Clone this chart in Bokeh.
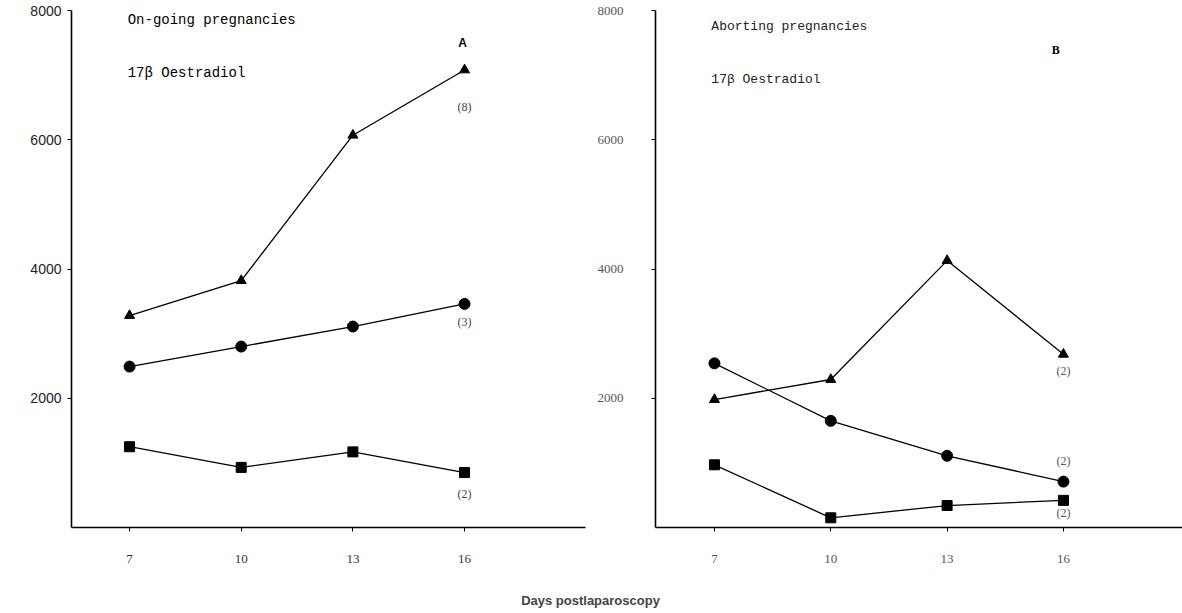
from bokeh.plotting import figure
from bokeh.layouts import column, row
from bokeh.models import FixedTicker, Label, Range1d
from bokeh.embed import file_html
from bokeh.resources import INLINE

days = [7, 10, 13, 16]
y_ticks = [2000, 4000, 6000, 8000]

# Panel A: on-going pregnancies
a_triangle = [3280, 3820, 6070, 7080]
a_circle = [2490, 2800, 3110, 3460]
a_square = [1250, 930, 1170, 850]

# Panel B: aborting pregnancies
b_triangle = [1980, 2290, 4130, 2680]
b_circle = [2540, 1650, 1110, 710]
b_square = [970, 150, 340, 420]


def style(p, ylab_font, ylab_color, xlab_font, xlab_color, ysize, xsize, ystand):
    p.outline_line_color = None
    p.xgrid.visible = False
    p.ygrid.visible = False
    p.xaxis.ticker = FixedTicker(ticks=days)
    p.yaxis.ticker = FixedTicker(ticks=y_ticks)
    for ax in (p.xaxis, p.yaxis):
        ax.axis_line_color = "black"
        ax.axis_line_width = 1.6
        ax.major_tick_in = 0
        ax.major_tick_out = 4
        ax.minor_tick_line_color = None
        ax.major_tick_line_color = "black"
    p.yaxis.major_label_text_font = ylab_font
    p.yaxis.major_label_text_color = ylab_color
    p.yaxis.major_label_text_font_size = ysize
    p.yaxis.major_label_standoff = ystand
    p.xaxis.major_label_text_font = xlab_font
    p.xaxis.major_label_text_color = xlab_color
    p.xaxis.major_label_text_font_size = xsize
    p.xaxis.major_label_standoff = 23


def series(p, tri, cir, sq):
    for ys in (tri, cir, sq):
        p.line(days, ys, line_color="black", line_width=1.3)
    p.scatter(days, tri, marker="triangle", size=10, color="black")
    p.scatter(days, cir, marker="circle", size=11, color="black")
    p.scatter(days, sq, marker="square", size=10, color="black")


def lab(p, x, y, text, font, size, color="black", style_="normal", align="left"):
    p.add_layout(Label(x=x, y=y, text=text, text_font=font, text_font_size=size,
                       text_color=color, text_font_style=style_, text_align=align,
                       text_baseline="middle"))


# Left panel
p1 = figure(width=590, height=578, output_backend="svg", toolbar_location=None,
            x_range=Range1d(5.44, 19.25), y_range=Range1d(0, 8000),
            min_border_left=71, min_border_right=5, min_border_top=10, min_border_bottom=50)
style(p1, "Liberation Sans", "#222222", "Liberation Serif", "#333333", "14px", "13px", 6)
series(p1, a_triangle, a_circle, a_square)
lab(p1, 6.95, 7846, "On-going pregnancies", "Liberation Mono", "14px")
lab(p1, 6.95, 7027, "17\u03b2 Oestradiol", "Liberation Mono", "14px")
lab(p1, 15.95, 7490, "A", "Liberation Sans", "12px", style_="bold", align="center")
lab(p1, 16, 6500, "(8)", "Liberation Serif", "12px", "#444444", align="center")
lab(p1, 16, 3180, "(3)", "Liberation Serif", "12px", "#444444", align="center")
lab(p1, 16, 525, "(2)", "Liberation Serif", "12px", "#444444", align="center")

# Right panel
p2 = figure(width=592, height=578, output_backend="svg", toolbar_location=None,
            x_range=Range1d(5.48, 19.07), y_range=Range1d(0, 8000),
            min_border_left=65, min_border_right=0, min_border_top=8, min_border_bottom=51)
style(p2, "Liberation Serif", "#555555", "Liberation Serif", "#555555", "13px", "13px", 28)
series(p2, b_triangle, b_circle, b_square)
lab(p2, 6.92, 7750, "Aborting pregnancies", "Liberation Mono", "13px", "#222222")
lab(p2, 6.92, 6936, "17\u03b2 Oestradiol", "Liberation Mono", "13px", "#222222")
lab(p2, 15.8, 7383, "B", "Liberation Serif", "12px", style_="bold", align="center")
lab(p2, 16, 2420, "(2)", "Liberation Serif", "12px", "#555555", align="center")
lab(p2, 16, 1032, "(2)", "Liberation Serif", "12px", "#555555", align="center")
lab(p2, 16, 231, "(2)", "Liberation Serif", "12px", "#555555", align="center")

# x-axis title strip
p3 = figure(width=1182, height=35, output_backend="svg", toolbar_location=None,
            x_range=Range1d(0, 1182), y_range=Range1d(0, 35),
            min_border=0)
p3.axis.visible = False
p3.xgrid.visible = False
p3.ygrid.visible = False
p3.outline_line_color = None
p3.add_layout(Label(x=590, y=13, text="Days postlaparoscopy", text_font="Liberation Sans",
                    text_font_size="13px", text_font_style="bold", text_align="center",
                    text_baseline="middle"))

layout = column(row(p1, p2), p3)
open("out.html", "w").write(file_html(layout, INLINE))
